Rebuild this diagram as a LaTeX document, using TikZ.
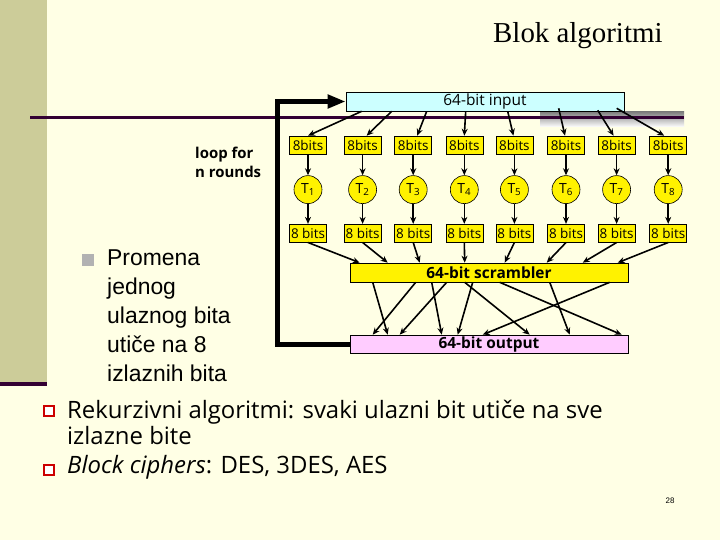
\documentclass[tikz,border=0pt]{standalone}
\usepackage{fontspec}
\setmainfont{Open Sans}
\newfontfamily\seriffont{Liberation Serif}
\newfontfamily\arialfont{Liberation Sans}
\usetikzlibrary{positioning,arrows.meta}
\definecolor{slidebg}{RGB}{255,255,229}
\definecolor{stripe}{RGB}{204,204,153}
\definecolor{rulecol}{RGB}{51,0,51}
\definecolor{shade}{RGB}{166,166,166}
\definecolor{inputfill}{RGB}{204,255,255}
\definecolor{outputfill}{RGB}{255,204,255}
\definecolor{bulletgray}{RGB}{178,178,178}
\definecolor{bulletred}{RGB}{204,0,0}

\begin{document}
\begin{tikzpicture}[
    x=1bp, y=-1bp,
    bitbox/.style={draw, line width=0.6bp, fill=yellow, minimum width=37bp, minimum height=18bp, inner sep=0.5bp, font=\fontsize{13.5}{15}\selectfont},
    tbox/.style={draw, circle, line width=0.6bp, fill=yellow, minimum size=28bp, inner sep=0bp, font=\fontsize{14}{16}\selectfont},
    widebox/.style={draw, line width=0.6bp, minimum width=278bp, minimum height=19bp, inner sep=1bp, font=\fontsize{15.5}{17}\selectfont},
    arrow/.style={-{Stealth[length=7bp,width=6bp]}, line width=1.6bp},
    feedback/.style={-{Triangle[length=18bp,width=13bp]}, line width=5bp},
    bullettext/.style={anchor=north west, inner sep=0bp, align=left}
]

% Slide background and decoration
\fill[slidebg] (0,0) rectangle (720,540);
\fill[stripe] (0,0) rectangle (47,382);
\fill[rulecol] (0,382) rectangle (47,386);
\fill[shade] (540,112) rectangle (684,127);
\draw[rulecol, line width=3bp] (30,118) -- (684,118);

% Title
\node[anchor=base west, inner sep=0bp, font=\seriffont\fontsize{29}{34}\selectfont] (title) at (493,43) {Blok algoritmi};

% Input block
\node[widebox, fill=inputfill] (in) at (485,101.5) {64-bit input};

% Input 8 bit chunks
\node[bitbox] (b1) at (308,145) {8bits};
\node[bitbox, right=17bp of b1] (b2) {8bits};
\node[bitbox, right=13bp of b2] (b3) {8bits};
\node[bitbox, right=13.5bp of b3] (b4) {8bits};
\node[bitbox, right=12.5bp of b4] (b5) {8bits};
\node[bitbox, right=14bp of b5] (b6) {8bits};
\node[bitbox, right=13bp of b6] (b7) {8bits};
\node[bitbox, right=14bp of b7] (b8) {8bits};

% Table lookups
\node[tbox, below=21bp of b1] (t1) {T\textsubscript{1}};
\node[tbox, below=21bp of b2] (t2) {T\textsubscript{2}};
\node[tbox, below=21bp of b3] (t3) {T\textsubscript{3}};
\node[tbox, below=21bp of b4] (t4) {T\textsubscript{4}};
\node[tbox, below=21bp of b5] (t5) {T\textsubscript{5}};
\node[tbox, below=21bp of b6] (t6) {T\textsubscript{6}};
\node[tbox, below=21bp of b7] (t7) {T\textsubscript{7}};
\node[tbox, below=21bp of b8] (t8) {T\textsubscript{8}};

% Output 8 bit chunks
\node[bitbox, below=20bp of t1] (o1) {8 bits};
\node[bitbox, below=20bp of t2] (o2) {8 bits};
\node[bitbox, below=20bp of t3] (o3) {8 bits};
\node[bitbox, below=20bp of t4] (o4) {8 bits};
\node[bitbox, below=20bp of t5] (o5) {8 bits};
\node[bitbox, below=20bp of t6] (o6) {8 bits};
\node[bitbox, below=20bp of t7] (o7) {8 bits};
\node[bitbox, below=20bp of t8] (o8) {8 bits};

% Scrambler and output
\node[widebox, fill=yellow, font=\bfseries\fontsize{15.5}{17}\selectfont] (scr) at (489,272.5) {64-bit scrambler};
\node[widebox, fill=outputfill, font=\bfseries\fontsize{15.5}{17}\selectfont, minimum height=18bp] (out) at (489,344) {64-bit output};

% Split input
\draw[arrow] ([xshift=16bp]in.south west) -- (b1.north);
\draw[arrow] ([xshift=46bp]in.south west) -- ([xshift=4bp]b2.north);
\draw[arrow] ([xshift=81bp]in.south west) -- ([xshift=4bp]b3.north);
\draw[arrow] ([xshift=120bp]in.south west) -- (b4.north);
\draw[arrow] ([xshift=162bp]in.south west) -- ([xshift=-1bp]b5.north);
\draw[arrow] ([xshift=213bp,yshift=3bp]in.south west) -- ([xshift=-1bp]b6.north);
\draw[arrow] ([xshift=252bp,yshift=1bp]in.south west) -- ([xshift=-3bp]b7.north);
\draw[arrow] ([xshift=271bp,yshift=3bp]in.south west) -- ([xshift=-4bp]b8.north);

% Through the tables
\draw[arrow] (b1) -- (t1);
\draw[arrow] (b2) -- (t2);
\draw[arrow] (b3) -- (t3);
\draw[arrow] (b4) -- (t4);
\draw[arrow] (b5) -- (t5);
\draw[arrow] (b6) -- (t6);
\draw[arrow] (b7) -- (t7);
\draw[arrow] (b8) -- (t8);
\draw[arrow] (t1) -- (o1);
\draw[arrow] (t2) -- (o2);
\draw[arrow] (t3) -- (o3);
\draw[arrow] (t4) -- (o4);
\draw[arrow] (t5) -- (o5);
\draw[arrow] (t6) -- (o6);
\draw[arrow] (t7) -- (o7);
\draw[arrow] (t8) -- (o8);

% Into the scrambler
\draw[arrow] (o1.south) -- ([xshift=10bp]scr.north west);
\draw[arrow] (o2.south) -- ([xshift=38bp]scr.north west);
\draw[arrow] (o3.south) -- ([xshift=70bp]scr.north west);
\draw[arrow] (o4.south) -- ([xshift=115bp]scr.north west);
\draw[arrow] (o5.south) -- ([xshift=155bp]scr.north west);
\draw[arrow] (o6.south) -- ([xshift=197bp]scr.north west);
\draw[arrow] (o7.south) -- ([xshift=233bp]scr.north west);
\draw[arrow] (o8.south) -- ([xshift=268bp]scr.north west);

% Scrambled wires
\draw[arrow] ([xshift=23bp]scr.south west) -- ([xshift=38bp]out.north west);
\draw[arrow] ([xshift=66bp]scr.south west) -- ([xshift=23bp]out.north west);
\draw[arrow] ([xshift=82bp]scr.south west) -- ([xshift=92bp]out.north west);
\draw[arrow] ([xshift=97bp]scr.south west) -- ([xshift=50bp]out.north west);
\draw[arrow] ([xshift=115bp]scr.south west) -- ([xshift=180bp]out.north west);
\draw[arrow] ([xshift=123bp]scr.south west) -- ([xshift=108bp]out.north west);
\draw[arrow] ([xshift=150bp]scr.south west) -- ([xshift=272bp]out.north west);
\draw[arrow] ([xshift=200bp]scr.south west) -- ([xshift=220bp]out.north west);
\draw[arrow] ([xshift=260bp]scr.south west) -- ([xshift=133bp]out.north west);

% Feedback loop
\draw[feedback] (out.west) -- ++(-72,0) |- (in.west);
\node[bullettext, font=\bfseries\fontsize{15}{19}\selectfont] (looplbl) at (195,147) {loop for\\n rounds};

% Side bullet
\fill[bulletgray] (82,254) rectangle (94,266);
\node[bullettext, font=\arialfont\fontsize{23}{29}\selectfont] (side) at (107,249.5) {Promena\\jednog\\ulaznog bita\\utiče na 8\\izlaznih bita};

% Bottom bullets
\draw[bulletred, fill=white, line width=2bp] (44,406) rectangle (54,416);
\node[bullettext, font=\fontsize{24}{26}\selectfont] (rek) at (67,400) {Rekurzivni algoritmi: svaki ulazni bit utiče na sve\\izlazne bite};
\draw[bulletred, fill=white, line width=2bp] (44,465) rectangle (54,475);
\node[bullettext, font=\fontsize{24}{26}\selectfont] (blk) at (67,455) {\textit{Block ciphers}: DES, 3DES, AES};

% Slide number
\node[anchor=base, inner sep=0bp, font=\arialfont\fontsize{8}{10}\selectfont] (num) at (670,503) {28};

\end{tikzpicture}
\end{document}
